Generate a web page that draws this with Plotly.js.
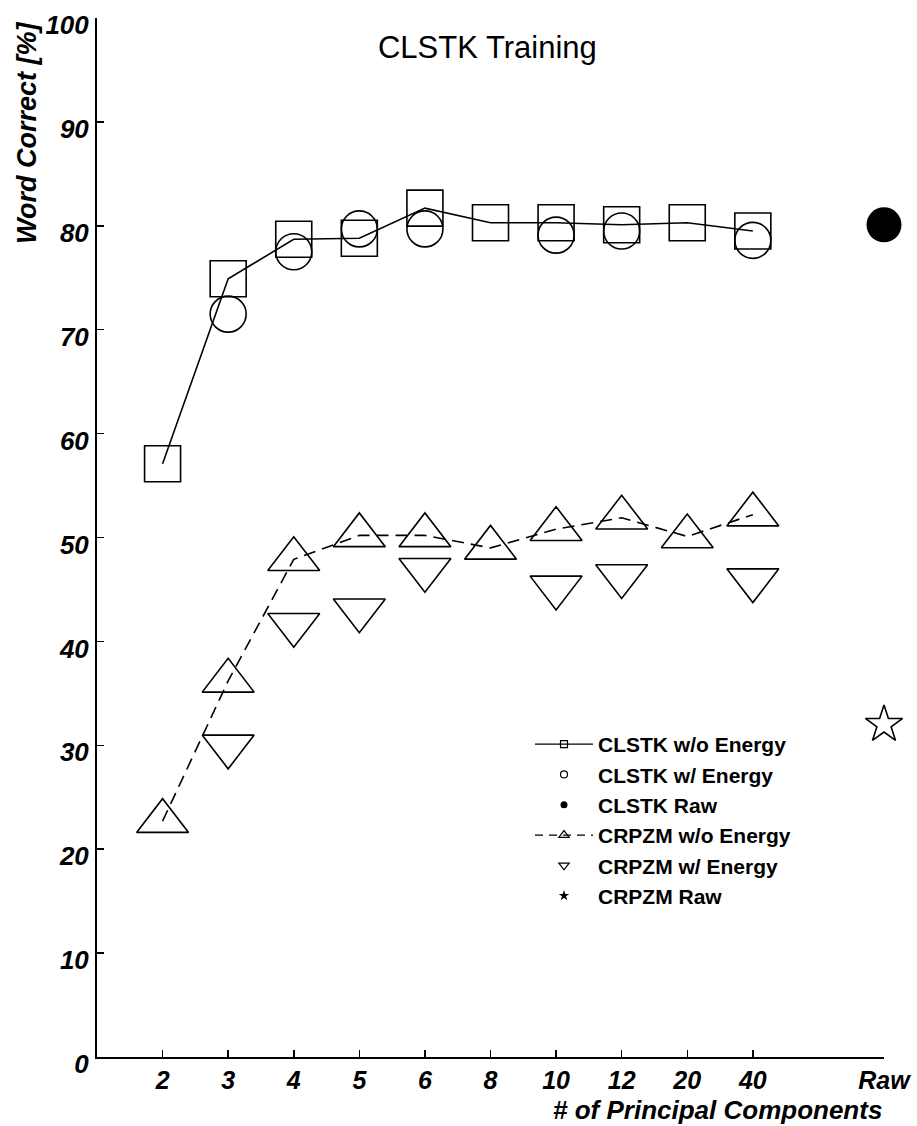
<!DOCTYPE html>
<html>
<head>
<meta charset="utf-8">
<script src="https://cdn.plot.ly/plotly-3.0.1.min.js"></script>
<style>html,body{margin:0;padding:0;background:#fff;}</style>
</head>
<body>
<div id="chart" style="width:917px;height:1126px;"></div>
<script>
// ---- data ----
const categories = ['2', '3', '4', '5', '6', '8', '10', '12', '20', '40'];
const rawLabel = 'Raw';
const clstkNoEnergy = [57.1, 74.9, 78.7, 78.8, 81.7, 80.3, 80.3, 80.1, 80.3, 79.5];
const clstkEnergy   = [null, 71.5, 77.5, 79.7, 79.7, null, 79.1, 79.5, null, 78.6];
const clstkRaw = [80.1];
const crpzmNoEnergy = [22.7, 36.2, 47.9, 50.2, 50.2, 49.0, 50.8, 51.9, 50.1, 52.2];
const crpzmEnergy   = [null, 29.9, 41.6, 43.0, 46.9, null, 45.2, 46.3, null, 45.9];
const crpzmRaw = [32.0];
const yTicks = [0, 10, 20, 30, 40, 50, 60, 70, 80, 90, 100];

// category positions on a linear axis (one empty slot before "Raw")
const xPos = categories.map((c, i) => i + 1);
const rawPos = categories.length + 2;
const tickVals = xPos.concat([rawPos]);
const tickText = categories.concat([rawLabel]);

const FONT = 'Liberation Sans, Arial, Helvetica, sans-serif';
const BLACK = '#000';
const lineW = 1.6;
const dashPat = '12px,7px';

const traces = [
  {x: xPos, y: clstkNoEnergy, mode: 'lines+markers', showlegend: false, cliponaxis: false,
   line: {color: BLACK, width: lineW},
   marker: {symbol: 'square-open', size: 36, color: BLACK, line: {width: 1.6, color: BLACK}}},
  {x: xPos, y: clstkEnergy, mode: 'markers', showlegend: false, cliponaxis: false,
   marker: {symbol: 'circle-open', size: 36, color: BLACK, line: {width: 1.6, color: BLACK}}},
  {x: [rawPos], y: clstkRaw, mode: 'markers', showlegend: false, cliponaxis: false,
   marker: {symbol: 'circle', size: 35, color: BLACK}},
  {x: xPos, y: crpzmNoEnergy, mode: 'lines+markers', showlegend: false, cliponaxis: false,
   line: {color: BLACK, width: lineW, dash: dashPat},
   marker: {symbol: 'triangle-up-open', size: 45, color: BLACK, line: {width: 1.6, color: BLACK}}},
  {x: xPos, y: crpzmEnergy, mode: 'markers', showlegend: false, cliponaxis: false,
   marker: {symbol: 'triangle-down-open', size: 45, color: BLACK, line: {width: 1.6, color: BLACK}}},
  {x: [rawPos], y: crpzmRaw, mode: 'markers', showlegend: false, cliponaxis: false,
   marker: {symbol: 'star-open', size: 28, color: BLACK, line: {width: 1.6, color: BLACK}}},
  // legend samples (small symbols, as in the reference legend)
  {x: [null], y: [null], name: 'CLSTK w/o Energy', mode: 'lines+markers', legendgroup: 'a',
   line: {color: BLACK, width: 1.2}, marker: {symbol: 'square-open', size: 7, color: BLACK, line: {width: 1.2}}},
  {x: [null], y: [null], name: 'CLSTK w/ Energy', mode: 'markers', legendgroup: 'b',
   marker: {symbol: 'circle-open', size: 7, color: BLACK, line: {width: 1.2}}},
  {x: [null], y: [null], name: 'CLSTK Raw', mode: 'markers', legendgroup: 'c',
   marker: {symbol: 'circle', size: 7, color: BLACK}},
  {x: [null], y: [null], name: 'CRPZM w/o Energy', mode: 'lines+markers', legendgroup: 'd',
   line: {color: BLACK, width: 1.2, dash: '8px,6px'}, marker: {symbol: 'triangle-up-open', size: 9, color: BLACK, line: {width: 1.2}}},
  {x: [null], y: [null], name: 'CRPZM w/ Energy', mode: 'markers', legendgroup: 'e',
   marker: {symbol: 'triangle-down-open', size: 9, color: BLACK, line: {width: 1.2}}},
  {x: [null], y: [null], name: 'CRPZM Raw', mode: 'markers', legendgroup: 'f',
   marker: {symbol: 'star', size: 8, color: BLACK}}
];

const yTickFont = {family: FONT, size: 26, color: BLACK, weight: 'bold', style: 'italic'};
const xTickFont = {family: FONT, size: 25, color: BLACK, weight: 'bold', style: 'italic'};

const layout = {
  width: 917, height: 1126,
  margin: {l: 97, r: 33, t: 18, b: 69},
  paper_bgcolor: '#fff', plot_bgcolor: '#fff',
  font: {family: FONT, color: BLACK},
  title: {text: 'CLSTK Training', font: {family: FONT, size: 31, color: BLACK},
          x: 0.496, xref: 'paper', xanchor: 'center', y: 1 - 47 / 1126, yanchor: 'middle'},
  xaxis: {
    range: [0, 12], tickmode: 'array', tickvals: tickVals, ticktext: tickText,
    showline: true, linewidth: 2, linecolor: BLACK, showgrid: false, zeroline: false,
    ticks: 'inside', ticklen: 7, tickwidth: 1.5, tickcolor: BLACK,
    tickfont: xTickFont, ticklabelstandoff: 0, ticklabeloverflow: 'allow', fixedrange: true
  },
  yaxis: {
    range: [0, 100], tickmode: 'array', tickvals: yTicks,
    showline: true, linewidth: 2, linecolor: BLACK, showgrid: false, zeroline: false,
    ticks: 'inside', ticklen: 7, tickwidth: 1.5, tickcolor: BLACK,
    tickfont: yTickFont, ticklabelshift: 7, ticklabelstandoff: 1, ticklabeloverflow: 'allow', fixedrange: true
  },
  legend: {
    x: (530 - 97) / 787, y: (1057 - 724) / 1039, xanchor: 'left', yanchor: 'top',
    bgcolor: 'rgba(0,0,0,0)', borderwidth: 0, itemwidth: 58,
    traceorder: 'grouped', tracegroupgap: 0,
    font: {family: FONT, size: 21, color: BLACK, weight: 'bold'}
  },
  annotations: [
    {text: 'Word Correct [%]', xref: 'paper', yref: 'paper', x: (27 - 97) / 787, y: (1057 - 133) / 1039,
     xanchor: 'center', yanchor: 'middle', textangle: -90, showarrow: false,
     font: {family: FONT, size: 27, color: BLACK, weight: 'bold', style: 'italic'}},
    {text: '# of Principal Components', xref: 'paper', yref: 'paper', x: (884 - 97) / 787, y: -(1110 - 1057) / 1039,
     xanchor: 'right', yanchor: 'middle', showarrow: false,
     font: {family: FONT, size: 26, color: BLACK, weight: 'bold', style: 'italic'}}
  ]
};

Plotly.newPlot('chart', traces, layout, {displayModeBar: false, staticPlot: true});
</script>
</body>
</html>
